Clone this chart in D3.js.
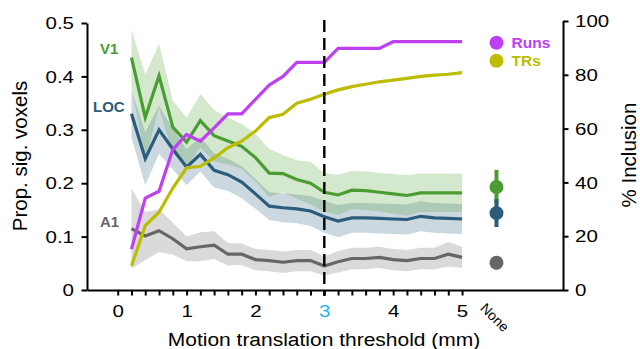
<!DOCTYPE html>
<html>
<head>
<meta charset="utf-8">
<script src="https://cdn.jsdelivr.net/npm/d3@7"></script>
<style>
  html, body { margin: 0; padding: 0; background: #fff; }
  svg { display: block; }
  text { font-family: "Liberation Sans", Arial, Helvetica, sans-serif; }
</style>
</head>
<body>
<svg id="chart" width="640" height="349"></svg>
<script>
// ---------- data ----------
const thresholds = [0.2,0.4,0.6,0.8,1.0,1.2,1.4,1.6,1.8,2.0,2.2,2.4,2.6,2.8,3.0,3.2,3.4,3.6,3.8,4.0,4.2,4.4,4.6,4.8,5.0];

const v1Mean  = [0.435,0.323,0.401,0.305,0.277,0.317,0.289,0.279,0.269,0.248,0.219,0.218,0.207,0.200,0.183,0.178,0.187,0.186,0.183,0.180,0.177,0.182,0.182,0.182,0.182];
const v1Err   = [0.053,0.080,0.060,0.050,0.046,0.050,0.048,0.044,0.042,0.045,0.045,0.035,0.036,0.040,0.036,0.038,0.036,0.036,0.036,0.037,0.038,0.036,0.036,0.036,0.036];

const locMean = [0.330,0.246,0.300,0.264,0.230,0.254,0.224,0.216,0.202,0.180,0.157,0.154,0.152,0.148,0.137,0.129,0.135,0.135,0.134,0.133,0.132,0.138,0.135,0.134,0.133];
const locErr  = [0.045,0.050,0.045,0.038,0.034,0.032,0.032,0.030,0.030,0.028,0.026,0.027,0.027,0.028,0.030,0.030,0.028,0.028,0.028,0.028,0.028,0.028,0.028,0.028,0.028];

const a1Mean  = [0.115,0.101,0.111,0.096,0.077,0.081,0.084,0.067,0.067,0.057,0.055,0.052,0.055,0.055,0.045,0.053,0.059,0.059,0.061,0.057,0.055,0.059,0.059,0.067,0.061];
const a1Err   = [0.075,0.045,0.040,0.030,0.023,0.027,0.026,0.021,0.020,0.020,0.020,0.020,0.020,0.020,0.018,0.020,0.020,0.020,0.020,0.020,0.020,0.020,0.020,0.023,0.020];

const runsPct = [15.2,34.2,36.7,52.2,57.8,55.3,60.3,65.5,65.5,70.9,76.2,79.4,84.6,84.6,84.6,89.8,89.8,89.8,89.8,92.3,92.3,92.3,92.3,92.3,92.3];
const trsPct  = [9.0,23.9,28.9,37.9,45.4,46.0,49.1,52.9,55.3,59.1,64.1,65.3,69.4,70.9,72.8,74.4,75.6,76.5,77.4,78.0,78.7,79.4,79.9,80.2,80.8];

// "None" (no threshold) condition
const noneX    = 5.5;
const noneRois = ["V1","LOC","A1"];
const noneMean = [0.193,0.144,0.051];
const noneErr  = [0.032,0.026,0.012];

const roiNames   = ["A1","LOC","V1"];
const legendKeys = ["Runs","TRs"];
const xTickVals  = [0,0.2,0.4,0.6,0.8,1,1.2,1.4,1.6,1.8,2,2.2,2.4,2.6,2.8,3,3.2,3.4,3.6,3.8,4,4.2,4.4,4.6,4.8,5];
const leftTicks  = [0,0.1,0.2,0.3,0.4,0.5];
const rightTicks = [0,20,40,60,80,100];
const chosenThreshold = 3;

// ---------- styles ----------
const colors = { V1: "#4a9d33", LOC: "#2b5c7c", A1: "#666666", Runs: "#bf40f2", TRs: "#bcbc00" };

// ---------- scales ----------
const svg = d3.select("#chart");
const x  = d3.scaleLinear().domain([-0.446, 6.466]).range([87, 563]);
const yL = d3.scaleLinear().domain([0, 0.5]).range([290, 23]);
const yR = d3.scaleLinear().domain([0, 100]).range([290, 21]);

const series = {
  V1:  { mean: v1Mean,  err: v1Err },
  LOC: { mean: locMean, err: locErr },
  A1:  { mean: a1Mean,  err: a1Err }
};

// ---------- bands ----------
const area = d3.area()
  .x((d, i) => x(thresholds[i]))
  .y0(d => yL(d[0] - d[1]))
  .y1(d => yL(d[0] + d[1]));

roiNames.forEach(name => {
  const s = series[name];
  const pts = s.mean.map((m, i) => [m, s.err[i]]);
  svg.append("path")
    .attr("d", area(pts))
    .attr("fill", colors[name])
    .attr("fill-opacity", 0.24)
    .attr("stroke", "none");
});

// ---------- lines ----------
const lineL = d3.line().x((d, i) => x(thresholds[i])).y(d => yL(d));
const lineR = d3.line().x((d, i) => x(thresholds[i])).y(d => yR(d));

roiNames.forEach(name => {
  svg.append("path")
    .attr("d", lineL(series[name].mean))
    .attr("fill", "none")
    .attr("stroke", colors[name])
    .attr("stroke-width", 3.2)
    .attr("stroke-linejoin", "miter");
});
svg.append("path").attr("d", lineR(trsPct)).attr("fill", "none")
  .attr("stroke", colors.TRs).attr("stroke-width", 3.2);
svg.append("path").attr("d", lineR(runsPct)).attr("fill", "none")
  .attr("stroke", colors.Runs).attr("stroke-width", 3.2);

// ---------- dashed threshold line ----------
svg.append("line")
  .attr("x1", x(chosenThreshold)).attr("x2", x(chosenThreshold))
  .attr("y1", 20).attr("y2", 296)
  .attr("stroke", "#000").attr("stroke-width", 2.4)
  .attr("stroke-dasharray", "12,6");

// ---------- "None" points ----------
noneRois.forEach((name, i) => {
  svg.append("line")
    .attr("x1", x(noneX)).attr("x2", x(noneX))
    .attr("y1", yL(noneMean[i] - noneErr[i]))
    .attr("y2", yL(noneMean[i] + noneErr[i]))
    .attr("stroke", colors[name]).attr("stroke-width", 4);
});
noneRois.forEach((name, i) => {
  svg.append("circle")
    .attr("cx", x(noneX)).attr("cy", yL(noneMean[i]))
    .attr("r", 7).attr("fill", colors[name]);
});

// ---------- axes ----------
function styleAxis(g) {
  g.selectAll("path.domain").attr("stroke", "#000").attr("stroke-width", 2);
  g.selectAll(".tick line").attr("stroke", "#000").attr("stroke-width", 2);
  g.selectAll(".tick text")
    .attr("fill", "#000")
    .style("font-family", "'Liberation Sans', Arial, sans-serif")
    .style("font-size", "20.5px");
}

const leftAxis = d3.axisLeft(yL).tickValues(leftTicks).tickSize(5.5).tickSizeOuter(0).tickPadding(7.5)
  .tickFormat(d => d === 0 ? "0" : d3.format(".1f")(d));
const gL = svg.append("g").attr("transform", "translate(87,0)").call(leftAxis);
styleAxis(gL);
gL.selectAll(".tick text").attr("dy", null).attr("y", 0)
  .attr("transform", "scale(1,0.8)").attr("dominant-baseline", "central");

const rightAxis = d3.axisRight(yR).tickValues(rightTicks).tickSize(5.5).tickSizeOuter(0).tickPadding(6.5);
const gR = svg.append("g").attr("transform", "translate(563,0)").call(rightAxis);
styleAxis(gR);
gR.selectAll(".tick text").attr("dy", null).attr("y", 0)
  .attr("transform", "scale(1,0.8)").attr("dominant-baseline", "central");

const bottomAxis = d3.axisBottom(x).tickValues(xTickVals).tickSize(5.5).tickSizeOuter(0)
  .tickFormat(d => Number.isInteger(d) ? String(d) : "");
const gB = svg.append("g").attr("transform", "translate(0,290)").call(bottomAxis);
styleAxis(gB);
gB.selectAll(".tick text").attr("dy", null).attr("y", 26.7 / 0.8)
  .attr("transform", "scale(1,0.8)")
  .attr("fill", d => d === chosenThreshold ? "#22b4f2" : "#000");

// "None" tick label
svg.append("text")
  .attr("transform", `translate(${x(noneX) - 17},309) rotate(45)`)
  .style("font-size", "14px")
  .attr("fill", "#000")
  .text("None");

// ---------- axis titles ----------
svg.append("text")
  .attr("transform", "translate(324,346) scale(1,0.83)")
  .attr("text-anchor", "middle")
  .style("font-size", "21px")
  .text("Motion translation threshold (mm)");

svg.append("text")
  .attr("transform", "translate(27,156) rotate(-90)")
  .attr("text-anchor", "middle")
  .style("font-size", "20.5px")
  .text("Prop. sig. voxels");

svg.append("text")
  .attr("transform", "translate(636,155) rotate(-90)")
  .attr("text-anchor", "middle")
  .style("font-size", "20.5px")
  .text("% Inclusion");

// ---------- ROI labels ----------
const roiLabelPos = { V1: [100, 54], LOC: [93, 112], A1: [100, 226.5] };
roiNames.forEach(name => {
  svg.append("text")
    .attr("x", roiLabelPos[name][0]).attr("y", roiLabelPos[name][1])
    .style("font-size", "15px").style("font-weight", "bold")
    .attr("fill", colors[name])
    .text(name);
});

// ---------- legend ----------
legendKeys.forEach((k, i) => {
  const cy = 42.7 + i * 18;
  svg.append("circle").attr("cx", x(noneX)).attr("cy", cy).attr("r", 7).attr("fill", colors[k]);
  svg.append("text")
    .attr("x", 511.5).attr("y", cy)
    .attr("dominant-baseline", "central")
    .style("font-size", "15.5px").style("font-weight", "bold")
    .attr("fill", colors[k])
    .text(k);
});
</script>
</body>
</html>
